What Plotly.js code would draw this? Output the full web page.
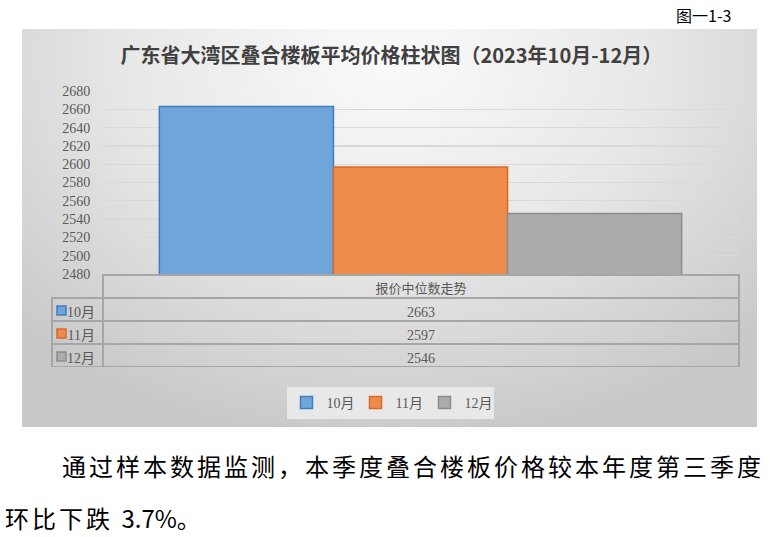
<!DOCTYPE html>
<html>
<head>
<meta charset="utf-8">
<script src="https://cdn.plot.ly/plotly-3.0.1.min.js"></script>
<style>
  html, body { margin: 0; padding: 0; background: #fff; }
  #page { position: relative; width: 778px; height: 537px; overflow: hidden; }
  #frame {
    position: absolute; left: 22px; top: 29px; width: 735px; height: 398px;
    background: radial-gradient(ellipse 70% 95% at 50% 8%, #fafafa 0%, #e8e8e8 50%, #c9c9c9 100%);
  }
  #chart { position: absolute; left: 0; top: 0; width: 778px; height: 537px; }
  .fig-no {
    position: absolute; left: 676px; top: 3px;
    font: 16px "Noto Sans CJK SC", "DejaVu Sans", sans-serif; color: #000;
  }
  .para {
    position: absolute; white-space: nowrap;
    font: 24px/32px "Noto Sans CJK SC", sans-serif; letter-spacing: 3px; color: #000;
  }
  .para .num { letter-spacing: 0; }
</style>
</head>
<body>
<div id="page">
  <div id="frame"></div>
  <div id="chart"></div>
  <div class="fig-no">图一1-3</div>
  <div class="para" style="left:62px; top:450px;">通过样本数据监测，本季度叠合楼板价格较本年度第三季度</div>
  <div class="para" style="left:5px; top:502px;">环比下跌 <span class="num">3.7%</span>。</div>
</div>
<script>
  // ---------- data ----------
  const category = "报价中位数走势";
  const months = ["10月", "11月", "12月"];
  const prices = [2663, 2597, 2546];
  const chartTitle = "广东省大湾区叠合楼板平均价格柱状图（2023年10月-12月）";

  // ---------- colours ----------
  const FILL = ["#6fa5d8", "#ee8c4b", "#ababab"];
  const EDGE = ["#3f7fc0", "#d8692a", "#8c8c8c"];
  const TXT = "#595959";
  const SERIF = "Liberation Serif, Noto Sans CJK SC, serif";

  // page is 778 x 537, margins are zero so paper fractions = pixels
  const W = 778, H = 537;
  const px = (x) => x / W;
  const py = (y) => 1 - y / H;

  // table geometry (pixels)
  const TBL_LEFT = 52, TBL_SPLIT = 103, TBL_RIGHT = 739;
  const TBL_TOP = 275, ROW_H = 23;

  const traces = months.map((m, i) => ({
    type: "bar",
    name: m,
    x: [category],
    y: [prices[i]],
    marker: { color: FILL[i], line: { color: EDGE[i], width: 1.5 } },
    hoverinfo: "skip",
  }));

  // data table under the plot
  traces.push({
    type: "table",
    domain: {
      x: [px(TBL_LEFT), px(TBL_RIGHT)],
      y: [py(TBL_TOP + ROW_H * (months.length + 1)), py(TBL_TOP)],
    },
    columnwidth: [TBL_SPLIT - TBL_LEFT, TBL_RIGHT - TBL_SPLIT],
    header: {
      values: ["", category],
      height: ROW_H,
      align: "center",
      fill: { color: "rgba(0,0,0,0)" },
      line: { color: ["rgba(0,0,0,0)", "#a6a6a6"], width: 1.5 },
      font: { family: "Noto Sans CJK SC, sans-serif", size: 13, color: TXT },
    },
    cells: {
      values: [months, prices.map(String)],
      height: ROW_H,
      align: ["right", "center"],
      fill: { color: "rgba(0,0,0,0)" },
      line: { color: "#a6a6a6", width: 1.5 },
      font: { family: SERIF, size: 14, color: TXT },
    },
  });

  // legend keys inside the table's first column
  const keyShapes = months.map((m, i) => {
    const cy = TBL_TOP + ROW_H * (i + 1) + ROW_H / 2 + 1;
    return {
      type: "rect", xref: "paper", yref: "paper",
      x0: px(57), x1: px(66), y0: py(cy + 4.5), y1: py(cy - 4.5),
      fillcolor: FILL[i], line: { color: EDGE[i], width: 1.5 },
    };
  });

  const layout = {
    width: W,
    height: H,
    margin: { l: 0, r: 0, t: 0, b: 0 },
    paper_bgcolor: "rgba(0,0,0,0)",
    plot_bgcolor: "rgba(0,0,0,0)",
    showlegend: true,
    barmode: "group",
    bargap: 0.18,
    bargroupgap: 0,
    shapes: keyShapes,
    title: {
      text: "<b>" + chartTitle + "</b>",
      x: 0.503, xanchor: "center",
      y: py(56), yanchor: "middle",
      font: { family: "Noto Sans CJK SC, sans-serif", size: 20, color: "#404040" },
    },
    xaxis: {
      domain: [px(102), px(TBL_RIGHT)],
      showticklabels: false,
      showgrid: false,
      showline: true,
      linecolor: "#6b6b6b",
      linewidth: 1.5,
      fixedrange: true,
    },
    yaxis: {
      domain: [py(274), py(91)],
      range: [2480, 2680],
      tick0: 2480,
      dtick: 20,
      showgrid: true,
      gridcolor: "#d9d9d9",
      gridwidth: 1.3,
      zeroline: false,
      showline: false,
      ticks: "outside",
      ticklen: 8,
      tickcolor: "rgba(0,0,0,0)",
      tickfont: { family: SERIF, size: 14, color: TXT },
      fixedrange: true,
    },
    legend: {
      orientation: "h",
      x: px(390), xanchor: "center",
      y: py(403), yanchor: "middle",
      bgcolor: "#e8e8e8",
      font: { family: SERIF, size: 14, color: TXT },
      itemwidth: 30,
      entrywidth: 24,
      traceorder: "normal",
    },
  };

  Plotly.newPlot("chart", traces, layout, { staticPlot: true, displayModeBar: false });
</script>
</body>
</html>
